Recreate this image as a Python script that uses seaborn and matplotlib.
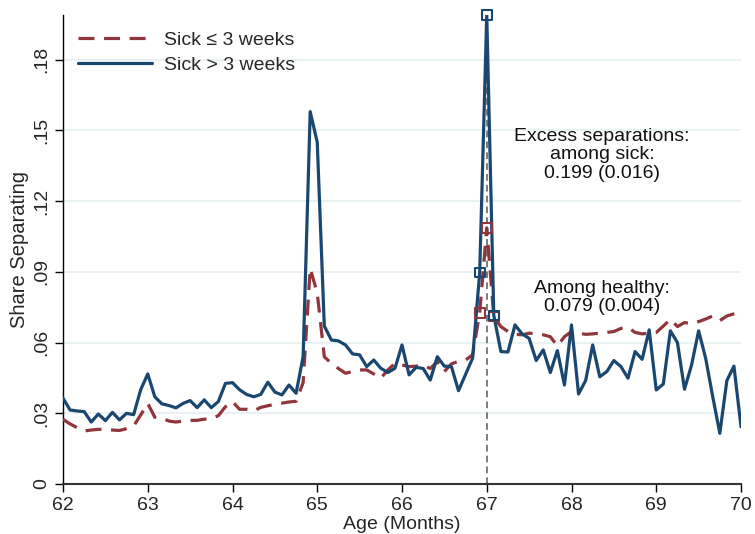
import numpy as np
import pandas as pd
import matplotlib
matplotlib.use("Agg")
import matplotlib.pyplot as plt
import seaborn as sns

# Monthly age grid, 62 to 70
age = np.round(62 + np.arange(97) / 12, 4)

# Share separating, sick more than 3 weeks
sick_long = [
    0.0364, 0.0314, 0.0310, 0.0307, 0.0263, 0.0297, 0.0269, 0.0304, 0.0272, 0.0300,
    0.0294, 0.0400, 0.0467, 0.0370, 0.0340, 0.0333, 0.0323, 0.0342, 0.0354, 0.0324,
    0.0357, 0.0324, 0.0350, 0.0427, 0.0430, 0.0400, 0.0380, 0.0370, 0.0380, 0.0432,
    0.0390, 0.0378, 0.0420, 0.0385, 0.0540, 0.1580, 0.1450, 0.0670, 0.0611, 0.0607,
    0.0590, 0.0552, 0.0548, 0.0498, 0.0526, 0.0491, 0.0473, 0.0491, 0.0590, 0.0463,
    0.0495, 0.0490, 0.0441, 0.0540, 0.0500, 0.0498, 0.0396, 0.0465, 0.0534, 0.0897,
    0.1990, 0.0715, 0.0562, 0.0560, 0.0675, 0.0637, 0.0618, 0.0524, 0.0569, 0.0473,
    0.0566, 0.0420, 0.0675, 0.0382, 0.0439, 0.0590, 0.0455, 0.0477, 0.0524, 0.0498,
    0.0449, 0.0562, 0.0529, 0.0654, 0.0399, 0.0424, 0.0650, 0.0600, 0.0402, 0.0505,
    0.0650, 0.0533, 0.0370, 0.0215, 0.0439, 0.0500, 0.0243,
]

# Share separating, sick up to 3 weeks
sick_short = [
    0.0274, 0.0255, 0.0239, 0.0225, 0.0229, 0.0232, 0.0232, 0.0229, 0.0227, 0.0235,
    0.0246, 0.0293, 0.0342, 0.0283, 0.0280, 0.0267, 0.0263, 0.0267, 0.0270, 0.0270,
    0.0275, 0.0277, 0.0290, 0.0328, 0.0350, 0.0317, 0.0317, 0.0310, 0.0325, 0.0332,
    0.0338, 0.0343, 0.0348, 0.0351, 0.0430, 0.0915, 0.0810, 0.0540, 0.0512, 0.0490,
    0.0470, 0.0477, 0.0484, 0.0484, 0.0467, 0.0449, 0.0484, 0.0512, 0.0505, 0.0498,
    0.0500, 0.0505, 0.0490, 0.0519, 0.0477, 0.0510, 0.0520, 0.0526, 0.0548, 0.0726,
    0.1087, 0.0710, 0.0668, 0.0647, 0.0635, 0.0633, 0.0640, 0.0637, 0.0633, 0.0625,
    0.0586, 0.0625, 0.0647, 0.0640, 0.0635, 0.0637, 0.0640, 0.0643, 0.0647, 0.0660,
    0.0665, 0.0643, 0.0637, 0.0640, 0.0643, 0.0670, 0.0699, 0.0668, 0.0685, 0.0680,
    0.0689, 0.0700, 0.0713, 0.0693, 0.0713, 0.0722, 0.0731,
]

labels = ["Sick \u2264 3 weeks", "Sick > 3 weeks"]
x_ticks = [62, 63, 64, 65, 66, 67, 68, 69, 70]
y_ticks = [0, 0.03, 0.06, 0.09, 0.12, 0.15, 0.18]
y_tick_labels = ["0", ".03", ".06", ".09", ".12", ".15", ".18"]
threshold_age = 67
note_sick = "Excess separations:\namong sick:\n0.199 (0.016)"
note_healthy = "Among healthy:\n0.079 (0.004)"

BLUE = "#1a476f"
RED = "#90353b"

sns.set_theme(style="white")
plt.rcParams["font.family"] = ["Liberation Sans", "DejaVu Sans"]

df = pd.DataFrame({"age": age, "short": sick_short, "long": sick_long})
near = df[(df["age"] > threshold_age - 0.1) & (df["age"] < threshold_age + 0.1)]

fig = plt.figure(figsize=(7.55, 5.34), dpi=100)
ax = fig.add_axes([63 / 755, 1 - 484 / 534, (741 - 63) / 755, (484 - 15) / 534])

# threshold marker
ax.plot([threshold_age, threshold_age], [0, max(sick_long)], color="#666666",
        lw=1.2, dashes=(4, 2.5), zorder=1)

sns.lineplot(data=df, x="age", y="short", ax=ax, color=RED, lw=2.3,
             label=labels[0], zorder=3)
ax.lines[-1].set_dashes((5, 3))
sns.lineplot(data=df, x="age", y="long", ax=ax, color=BLUE, lw=2.3,
             label=labels[1], zorder=4)

sns.scatterplot(data=near, x="age", y="short", ax=ax, marker="s", s=48,
                facecolor="none", edgecolor=RED, linewidth=1.5, zorder=5,
                clip_on=False)
sns.scatterplot(data=near, x="age", y="long", ax=ax, marker="s", s=48,
                facecolor="none", edgecolor=BLUE, linewidth=1.5, zorder=6,
                clip_on=False)

ax.set_xlim(62, 70)
ax.set_ylim(0, 0.199)
ax.set_xticks(x_ticks)
ax.set_xticklabels([str(t) for t in x_ticks], fontsize=14)
ax.set_yticks(y_ticks)
ax.set_yticklabels(y_tick_labels, fontsize=14, rotation=90, va="center")
ax.tick_params(axis="both", direction="out", length=6, width=1.0, color="black",
               left=True, bottom=True, pad=3)
ax.yaxis.grid(True, color="#eaf1f2", lw=1.5)
ax.xaxis.grid(False)
ax.set_axisbelow(True)
for side in ["top", "right"]:
    ax.spines[side].set_visible(False)
ax.spines["left"].set_color("black")
ax.spines["bottom"].set_color("#333333")
ax.spines["left"].set_linewidth(1.0)
ax.spines["bottom"].set_linewidth(1.5)

ax.set_xlabel("Age (Months)", fontsize=14, labelpad=2)
ax.set_ylabel("Share Separating", fontsize=14.5, labelpad=3)

ax.text(68.36, 0.1396, note_sick, ha="center", va="center", fontsize=14,
        linespacing=1.1, color="#111111")
ax.text(68.36, 0.0792, note_healthy, ha="center", va="center", fontsize=14,
        linespacing=1.1, color="#111111")

handles, _ = ax.get_legend_handles_labels()
ax.legend(handles[:2], labels, loc="upper left", frameon=False, fontsize=14,
          bbox_to_anchor=(78 / 755, 1 - 31 / 534), bbox_transform=fig.transFigure,
          borderpad=0, borderaxespad=0, handlelength=3.8, handletextpad=0.6,
          labelspacing=0.4)

fig.savefig("out.png", dpi=100)
